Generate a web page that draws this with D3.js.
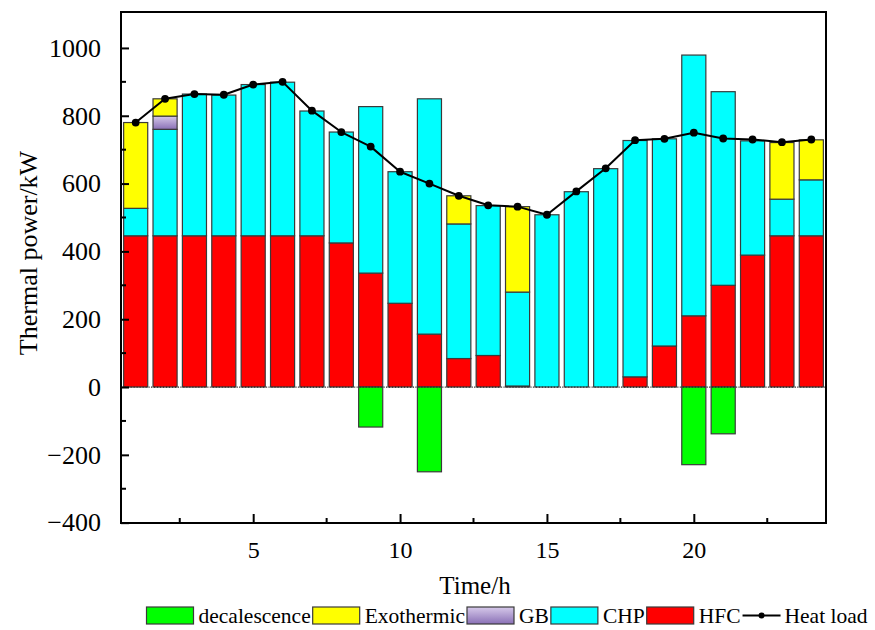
<!DOCTYPE html>
<html>
<head>
<meta charset="utf-8">
<script src="https://cdn.jsdelivr.net/npm/d3@7"></script>
<style>
  html, body { margin: 0; padding: 0; background: #fff; }
  svg { display: block; }
  svg text { font-family: "Liberation Serif", "Times New Roman", serif !important; }
</style>
</head>
<body>
<svg id="chart" width="875" height="630"></svg>
<script>
// ---- data ----
const hours = d3.range(1, 25);
const HFC = [446,446,446,446,446,446,446,425,336,247,156,84,93,3,0,0,0,30,121,210,300,389,446,446];
const CHP = [81,314,418,415,446,453,368,327,491,388,694,397,442,277,508,576,644,697,611,769,571,337,108,165];
const GB = [0,39,0,0,0,0,0,0,0,0,0,0,0,0,0,0,0,0,0,0,0,0,0,0];
const Exothermic = [253,51,0,0,0,0,0,0,0,0,0,83,0,252,0,0,0,0,0,0,0,0,167,118];
const decalescence = [0,0,0,0,0,0,0,0,-118,0,-250,0,0,0,0,0,0,0,0,-229,-138,0,0,0];
const heatLoad = [780,850,864,862,892,900,815,752,709,635,600,564,536,532,508,577,645,728,732,750,733,730,722,730];
const yTicks = [-400,-200,0,200,400,600,800,1000];
const xTicks = [5,10,15,20];
const legendNames = ["decalescence","Exothermic","GB","CHP","HFC","Heat load"];

const svg = d3.select("#chart");
const L = 121, R = 826, T = 12, B = 523;
const x = d3.scaleLinear().domain([0.5, 24.5]).range([L, R]);
const y = d3.scaleLinear().domain([-401, 1106]).range([B, T]);
const bw = (x(1) - x(0)) * 0.82;

const defs = svg.append("defs");
const gb = defs.append("linearGradient").attr("id","gbGrad").attr("x1",0).attr("y1",0).attr("x2",0).attr("y2",1);
gb.append("stop").attr("offset","0%").attr("stop-color","#d6c9ea");
gb.append("stop").attr("offset","100%").attr("stop-color","#8a70b6");

const colors = {HFC:"#ff0000", CHP:"#00ffff", GB:"url(#gbGrad)", Exothermic:"#ffff00", decalescence:"#00ff00"};
const stroke = "#3a3a3a";

// stacked positive segments
const series = [["HFC",HFC],["CHP",CHP],["GB",GB],["Exothermic",Exothermic]];
const segs = [];
hours.forEach((h,i) => {
  let base = 0;
  series.forEach(([name, arr]) => {
    const v = arr[i];
    if (v > 0) { segs.push({h, name, y0: base, y1: base + v}); base += v; }
  });
  if (decalescence[i] < 0) segs.push({h, name:"decalescence", y0: decalescence[i], y1: 0});
});

const g = svg.append("g");
g.selectAll("rect.seg").data(segs).join("rect")
  .attr("class","seg")
  .attr("x", d => x(d.h) - bw/2)
  .attr("width", bw)
  .attr("y", d => y(d.y1))
  .attr("height", d => y(d.y0) - y(d.y1))
  .attr("fill", d => colors[d.name])
  .attr("stroke", stroke)
  .attr("stroke-width", 1.2);

// dotted zero edge
g.selectAll("line.zero").data(hours).join("line")
  .attr("x1", d => x(d) - bw/2 - 2).attr("x2", d => x(d) + bw/2 + 2)
  .attr("y1", y(0)).attr("y2", y(0))
  .attr("stroke", "#222").attr("stroke-width", 1.2).attr("stroke-dasharray","1,2");

// heat load line
const line = d3.line().x((d,i) => x(hours[i])).y(d => y(d));
g.append("path").datum(heatLoad).attr("d", line)
  .attr("fill","none").attr("stroke","#000").attr("stroke-width",2).attr("stroke-linejoin","round");
g.selectAll("circle.pt").data(heatLoad).join("circle")
  .attr("cx",(d,i) => x(hours[i])).attr("cy", d => y(d)).attr("r",3.9).attr("fill","#000");

// frame
svg.append("rect").attr("x",L).attr("y",T).attr("width",R-L).attr("height",B-T)
  .attr("fill","none").attr("stroke","#000").attr("stroke-width",2);

// y axis (ticks inward)
const yAxis = d3.axisLeft(y).tickValues(yTicks).tickSize(-8).tickPadding(20)
  .tickFormat(d => d < 0 ? "\u2212" + Math.abs(d) : String(d));
const ya = svg.append("g").attr("transform",`translate(${L},0)`).call(yAxis);
ya.select(".domain").remove();
ya.selectAll(".tick line").attr("stroke","#000").attr("stroke-width",2);
ya.selectAll(".tick text").attr("font-size",26).attr("fill","#000");
const yMinor = d3.range(-300, 1000, 200);
svg.append("g").selectAll("line").data(yMinor).join("line")
  .attr("x1",L).attr("x2",L+5).attr("y1",d=>y(d)).attr("y2",d=>y(d))
  .attr("stroke","#000").attr("stroke-width",2);

// x axis
const xAxis = d3.axisBottom(x).tickValues(xTicks).tickSize(-9).tickPadding(18).tickFormat(d3.format("d"));
const xa = svg.append("g").attr("transform",`translate(0,${B})`).call(xAxis);
xa.select(".domain").remove();
xa.selectAll(".tick line").attr("stroke","#000").attr("stroke-width",2);
xa.selectAll(".tick text").attr("font-size",24).attr("fill","#000");
const xMinor = [2.5,7.5,12.5,17.5,22.5];
svg.append("g").selectAll("line").data(xMinor).join("line")
  .attr("x1",d=>x(d)).attr("x2",d=>x(d)).attr("y1",B).attr("y2",B-5)
  .attr("stroke","#000").attr("stroke-width",2);

// axis titles
svg.append("text").attr("x",475).attr("y",594).attr("text-anchor","middle")
  .attr("font-size",25).text("Time/h");
svg.append("text").attr("transform","translate(37,253) rotate(-90)").attr("text-anchor","middle")
  .attr("font-size",26).text("Thermal power/kW");

// legend
const leg = svg.append("g").attr("font-size",21.5);
let lx = 146.5;
const ly = 607, sw = 47, sh = 17;
const legColors = [colors.decalescence, colors.Exothermic, colors.GB, colors.CHP, colors.HFC];
legendNames.forEach((name, i) => {
  if (i < 5) {
    leg.append("rect").attr("x",lx).attr("y",ly).attr("width",sw).attr("height",sh)
      .attr("fill",legColors[i]).attr("stroke",stroke).attr("stroke-width",1.2);
    lx += sw + 5;
  } else {
    leg.append("line").attr("x1",lx).attr("x2",lx+38).attr("y1",ly+sh/2).attr("y2",ly+sh/2)
      .attr("stroke","#000").attr("stroke-width",2);
    leg.append("circle").attr("cx",lx+19).attr("cy",ly+sh/2).attr("r",3).attr("fill","#000");
    lx += 42;
  }
  const t = leg.append("text").attr("x",lx).attr("y",ly+sh-1).text(name);
  lx += t.node().getComputedTextLength() + 2;
});
</script>
</body>
</html>
